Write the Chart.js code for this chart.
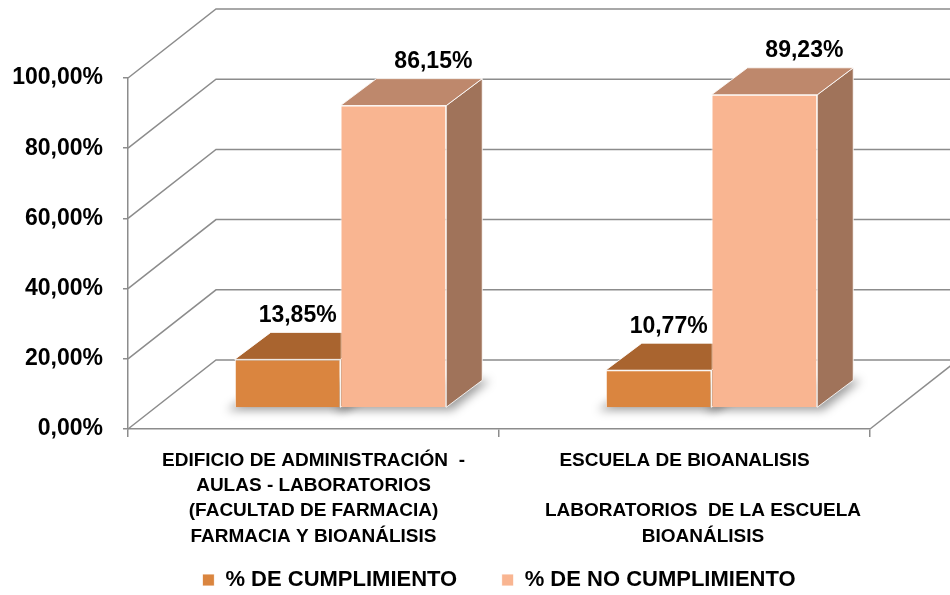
<!DOCTYPE html>
<html>
<head>
<meta charset="utf-8">
<script src="https://cdn.jsdelivr.net/npm/chart.js@4.4.1/dist/chart.umd.min.js"></script>
<style>
  html, body { margin: 0; padding: 0; background: #fff; }
  #wrap { width: 950px; height: 595px; }
</style>
</head>
<body>
<div id="wrap"><canvas id="grafico" width="950" height="595"></canvas></div>
<script>
// datos
const categorias = [
    ['EDIFICIO DE ADMINISTRACIÓN  -', 'AULAS - LABORATORIOS', '(FACULTAD DE FARMACIA)', 'FARMACIA Y BIOANÁLISIS'],
    ['ESCUELA DE BIOANALISIS', '', '       LABORATORIOS  DE LA ESCUELA', '       BIOANÁLISIS']
];
const series = ['% DE CUMPLIMIENTO', '% DE NO CUMPLIMIENTO'];
const cumplimiento = [13.85, 10.77];
const noCumplimiento = [86.15, 89.23];
const ticksY = [0, 20, 40, 60, 80, 100];

// colores de las caras (frente, tapa, lado)
const frente = ['#DA853F', '#F9B591'];
const tapa = ['#A9642F', '#BE886C'];
const lado = ['#8F5226', '#A0735A'];

// geometría del efecto 3D
const PROF = { dx: 88, dy: -69 };   // fondo de las paredes
const DESP = { dx: 27, dy: -21 };   // barras metidas hacia el fondo
const BARRA = { dx: 36, dy: -27 };  // fondo de cada barra
const desplEtiqueta = [10, 40];

const FUENTE = 'Liberation Sans, Arial, sans-serif';
const fmt = v => v.toFixed(2).replace('.', ',') + '%';

function poligono(ctx, pts) {
    ctx.beginPath();
    ctx.moveTo(pts[0][0], pts[0][1]);
    for (let i = 1; i < pts.length; i++) ctx.lineTo(pts[i][0], pts[i][1]);
    ctx.closePath();
    ctx.fill();
    ctx.stroke();
}

const efecto3d = {
    id: 'efecto3d',
    beforeDatasetsDraw(chart) {
        const { ctx, chartArea: a, scales: { y } } = chart;

        // paredes (lateral, fondo y piso)
        ctx.save();
        ctx.strokeStyle = '#8c8c8c';
        ctx.lineWidth = 1.5;
        y.ticks.forEach(t => {
            const py = y.getPixelForValue(t.value);
            ctx.beginPath();
            ctx.moveTo(a.left, py);
            ctx.lineTo(a.left + PROF.dx, py + PROF.dy);
            ctx.lineTo(a.right + PROF.dx, py + PROF.dy);
            ctx.stroke();
        });
        ctx.beginPath();
        ctx.moveTo(a.right, a.bottom);
        ctx.lineTo(a.right + PROF.dx, a.bottom + PROF.dy);
        ctx.stroke();
        ctx.restore();

        // las barras se dibujan desplazadas hacia el fondo
        ctx.save();
        ctx.translate(DESP.dx, DESP.dy);

        // sombras en el piso
        ctx.save();
        ctx.filter = 'blur(5px)';
        ctx.fillStyle = 'rgba(0,0,0,0.38)';
        ctx.strokeStyle = 'rgba(0,0,0,0)';
        chart.data.datasets.forEach((ds, i) => {
            chart.getDatasetMeta(i).data.forEach(el => {
                const { x, base, width } = el.getProps(['x', 'base', 'width'], true);
                const l = x - width / 2, r = x + width / 2;
                poligono(ctx, [[l - 8, base + 3], [r + 6, base + 3], [r + BARRA.dx + 8, base + BARRA.dy], [l + BARRA.dx, base + BARRA.dy]]);
            });
        });
        ctx.restore();

        // tapas y lados
        ctx.strokeStyle = 'rgba(255,255,255,0.85)';
        ctx.lineWidth = 1;
        chart.data.datasets.forEach((ds, i) => {
            chart.getDatasetMeta(i).data.forEach(el => {
                const { x, y: top, base, width } = el.getProps(['x', 'y', 'base', 'width'], true);
                const l = x - width / 2, r = x + width / 2;
                ctx.fillStyle = lado[i];
                poligono(ctx, [[r, top], [r + BARRA.dx, top + BARRA.dy], [r + BARRA.dx, base + BARRA.dy], [r, base]]);
                ctx.fillStyle = tapa[i];
                poligono(ctx, [[l, top], [r, top], [r + BARRA.dx, top + BARRA.dy], [l + BARRA.dx, top + BARRA.dy]]);
            });
        });
    },
    afterDatasetsDraw(chart) {
        const ctx = chart.ctx;
        ctx.restore();

        // etiquetas de valor
        ctx.save();
        ctx.font = 'bold 23px ' + FUENTE;
        ctx.fillStyle = '#000';
        ctx.textAlign = 'center';
        ctx.textBaseline = 'middle';
        chart.data.datasets.forEach((ds, i) => {
            chart.getDatasetMeta(i).data.forEach((el, j) => {
                const { x, y } = el.getProps(['x', 'y'], true);
                ctx.fillText(fmt(ds.data[j]), x + DESP.dx + desplEtiqueta[i], y + DESP.dy - 44);
            });
        });
        ctx.restore();
    }
};

new Chart(document.getElementById('grafico'), {
    type: 'bar',
    data: {
        labels: categorias,
        datasets: [
            { label: series[0], data: cumplimiento, backgroundColor: frente[0], borderColor: 'rgba(255,255,255,0.85)', borderWidth: 1, clip: false },
            { label: series[1], data: noCumplimiento, backgroundColor: frente[1], borderColor: 'rgba(255,255,255,0.85)', borderWidth: 1, clip: false }
        ]
    },
    options: {
        responsive: false,
        animation: false,
        devicePixelRatio: 1,
        layout: { padding: { top: 78, right: 80, bottom: -6, left: 0 } },
        datasets: { bar: { barPercentage: 1, categoryPercentage: 0.57 } },
        plugins: {
            legend: {
                position: 'bottom',
                fullSize: false,
                labels: {
                    boxWidth: 12,
                    boxHeight: 12,
                    padding: 20,
                    color: '#000',
                    font: { family: FUENTE, size: 22, weight: 'bold' },
                    // separación extra entre las dos entradas
                    generateLabels: ch => Chart.defaults.plugins.legend.labels.generateLabels(ch)
                        .map((it, i) => ({ ...it, text: i === 0 ? it.text + '    ' : it.text }))
                }
            },
            tooltip: { enabled: false }
        },
        scales: {
            x: {
                afterFit: s => { s.height = 120; },
                grid: { drawOnChartArea: false, drawTicks: true, tickLength: 8, color: '#8c8c8c', lineWidth: 1.5 },
                border: { display: true, color: '#8c8c8c', width: 1.5 },
                ticks: {
                    color: '#000',
                    padding: 11,
                    maxRotation: 0,
                    autoSkip: false,
                    font: { family: FUENTE, size: 19, weight: 'bold', lineHeight: 1.33 }
                }
            },
            y: {
                min: ticksY[0],
                max: ticksY[ticksY.length - 1],
                afterBuildTicks: s => { s.ticks = ticksY.map(v => ({ value: v })); },
                afterFit: s => { s.width = 128; },
                grid: { drawOnChartArea: false, drawTicks: true, tickLength: 5, color: '#8c8c8c', lineWidth: 1.5 },
                border: { display: true, color: '#8c8c8c', width: 1.5 },
                ticks: {
                    color: '#000',
                    padding: 20,
                    callback: v => fmt(v),
                    font: { family: FUENTE, size: 23, weight: 'bold' }
                }
            }
        }
    },
    plugins: [efecto3d]
});
</script>
</body>
</html>
